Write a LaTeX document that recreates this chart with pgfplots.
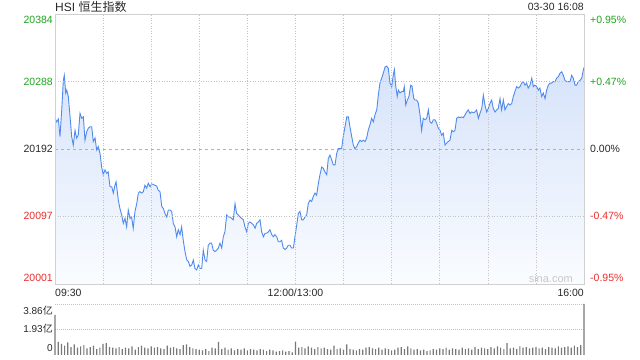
\documentclass[border=0pt]{standalone}
\usepackage{pgfplots}
\pgfplotsset{compat=1.18}
\usepackage{pgfplotstable}
\usepackage{fontspec}
\setmainfont{Liberation Sans}
\newfontfamily\cjk{Noto Sans CJK SC}
\definecolor{upgreen}{RGB}{30,165,30}
\definecolor{downred}{RGB}{235,45,45}
\definecolor{txt}{RGB}{40,40,40}
\definecolor{frame}{RGB}{208,208,208}
\definecolor{gridc}{RGB}{195,195,195}
\definecolor{lineblue}{RGB}{80,138,236}
\definecolor{filltop}{RGB}{214,227,250}
\definecolor{fillbot}{RGB}{250,252,255}
\definecolor{prevc}{RGB}{238,160,115}
\definecolor{volc}{RGB}{120,120,120}
\newcommand\lf{\fontsize{10.5bp}{12bp}\selectfont}

\pgfplotstableread{
m p
0 20236
1.1 20231
2.1 20235
3.1 20210
4.2 20248
5.2 20290
5.8 20297
6.7 20272
7.3 20276
8.3 20267
9.4 20238
10.4 20210
11.4 20198
12.5 20219
13.5 20208
14.5 20212
15.6 20243
16.7 20236
17.7 20238
18.7 20205
19.8 20217
20.8 20222
21.8 20224
22.9 20224
23.9 20203
25.0 20208
26.0 20191
27.0 20196
28.1 20186
29.1 20167
30.1 20156
31.2 20163
32.3 20158
33.2 20160
34.3 20139
35.4 20139
36.4 20130
37.4 20141
38.1 20146
39.5 20120
40.5 20108
41.6 20099
42.6 20087
43.7 20094
44.7 20082
45.7 20106
46.8 20094
47.8 20096
48.8 20080
49.9 20104
51.0 20115
52.0 20130
53.0 20132
54.1 20130
55.1 20132
56.1 20141
57.2 20137
58.2 20144
59.3 20139
60.3 20143
62.4 20141
63.4 20140
64.4 20134
65.5 20132
66.6 20111
67.6 20108
68.6 20101
69.7 20096
70.7 20106
71.7 20106
72.8 20104
73.8 20087
74.9 20082
75.9 20068
76.9 20078
78.0 20071
79.0 20082
80.0 20063
81.1 20047
82.2 20035
83.2 20033
84.2 20026
85.3 20028
86.3 20035
87.3 20023
88.4 20021
89.4 20028
90.5 20023
91.5 20023
92.5 20049
93.6 20035
94.6 20033
95.6 20056
96.7 20059
97.7 20059
98.7 20049
99.8 20047
100.9 20049
101.9 20052
102.9 20059
104.0 20052
105.0 20068
106.0 20075
107.1 20099
108.1 20096
109.2 20096
110.2 20094
111.2 20092
112.3 20115
113.3 20101
114.3 20099
115.4 20096
116.5 20094
117.5 20092
118.5 20082
119.6 20075
120.6 20087
121.6 20089
122.7 20087
123.7 20085
124.8 20080
125.8 20087
126.8 20089
127.9 20092
128.9 20075
130.0 20068
131.0 20073
132.1 20073
133.1 20075
134.1 20078
135.2 20071
136.2 20068
137.2 20071
138.3 20068
139.3 20061
140.4 20061
141.4 20063
142.4 20052
143.5 20050
144.5 20052
145.5 20056
146.6 20056
147.6 20052
148.7 20052
149.7 20068
150.8 20085
151.8 20101
152.8 20104
153.9 20092
154.9 20092
156.0 20096
157.0 20099
158.0 20115
159.1 20120
160.1 20118
161.1 20125
162.2 20130
163.2 20127
164.3 20144
165.3 20156
166.4 20167
167.4 20165
168.4 20160
169.5 20156
170.5 20179
171.5 20184
172.6 20177
173.6 20170
174.7 20170
175.7 20186
176.7 20193
177.8 20193
178.8 20193
179.8 20210
180.9 20224
182.0 20238
183.0 20238
184.0 20224
185.1 20210
186.1 20198
187.1 20193
188.2 20196
189.2 20201
190.3 20205
191.3 20203
192.3 20205
193.4 20203
194.4 20208
195.4 20219
196.5 20227
197.5 20236
198.6 20231
199.6 20241
200.7 20248
201.7 20269
202.7 20286
203.8 20293
204.8 20300
205.9 20309
206.9 20310
207.9 20307
209.0 20286
210.0 20281
211.0 20297
211.7 20305
212.5 20283
213.5 20267
214.2 20276
215.2 20272
216.3 20274
217.3 20274
217.9 20281
218.8 20255
219.8 20262
220.8 20267
221.9 20283
222.7 20282
223.8 20264
224.6 20262
225.6 20262
226.6 20258
227.7 20241
228.7 20219
229.7 20236
230.8 20234
231.9 20236
232.9 20248
233.9 20231
235.0 20229
236.0 20234
237.0 20234
238.1 20229
239.1 20222
240.2 20219
241.2 20212
242.2 20215
243.3 20198
244.3 20201
245.3 20203
246.4 20205
247.5 20219
248.5 20217
249.5 20219
250.6 20236
251.6 20238
252.6 20237
253.7 20238
254.7 20237
255.8 20241
256.8 20245
257.8 20248
258.9 20243
259.9 20245
261.0 20244
262.0 20245
263.0 20248
264.1 20236
265.1 20243
266.2 20250
267.2 20269
268.2 20255
269.3 20245
270.3 20250
271.3 20257
272.4 20262
273.4 20250
274.5 20245
275.5 20248
276.5 20250
277.6 20264
278.6 20248
279.7 20262
280.7 20248
281.8 20253
282.8 20257
283.8 20255
284.9 20257
285.9 20267
286.9 20274
288.0 20281
289.0 20279
290.1 20281
291.1 20286
292.1 20288
293.2 20283
294.2 20286
295.2 20279
296.3 20283
297.4 20293
298.4 20281
299.4 20283
300.5 20281
301.5 20276
302.5 20279
303.6 20267
304.6 20272
305.7 20264
306.7 20276
307.7 20283
308.8 20286
309.8 20286
310.8 20288
311.9 20288
312.9 20293
314.0 20295
315.0 20300
316.1 20302
317.1 20297
318.1 20290
319.2 20288
320.2 20288
321.3 20288
322.3 20297
323.3 20293
324.4 20283
325.4 20283
326.4 20288
327.5 20290
328.6 20293
329.6 20305
330 20308
}\pricedata

\pgfplotstableread{
m v
0 3.03
2 1.00
4 0.85
6 0.70
8 0.95
10 0.60
12 0.80
14 0.55
16 0.65
18 0.75
20 0.50
22 0.60
24 0.70
26 0.45
28 0.55
30 0.85
32 0.90
34 0.60
36 0.55
38 0.50
40 0.60
42 0.45
44 0.55
46 0.50
48 0.65
50 0.40
52 0.60
54 0.70
56 0.55
58 0.50
60 0.65
62 0.55
64 0.60
66 0.50
68 0.45
70 0.70
72 0.55
74 0.60
76 0.50
78 0.45
80 0.75
82 0.80
84 0.60
86 0.50
88 0.45
90 0.40
92 0.35
94 0.45
96 0.30
98 0.55
100 0.50
102 1.00
104 0.45
106 0.55
108 0.40
110 0.50
112 0.35
114 0.45
116 0.40
118 0.50
120 0.35
122 0.45
124 0.40
126 0.35
128 0.45
130 0.40
132 0.30
134 0.40
136 0.35
138 0.25
140 0.30
142 0.35
144 0.25
146 0.30
148 0.20
150 1.02
152 0.55
154 0.60
156 0.50
158 0.65
160 0.55
162 0.45
164 0.60
166 0.50
168 0.55
170 0.45
172 0.40
174 0.70
176 0.45
178 0.50
180 0.40
182 0.80
184 0.45
186 0.40
188 0.35
190 0.45
192 0.40
194 0.55
196 0.60
198 0.50
200 0.45
202 0.55
204 0.40
206 0.50
208 0.45
210 0.35
212 0.40
214 0.55
216 0.60
218 0.45
220 0.65
222 0.50
224 0.40
226 0.45
228 0.35
230 0.40
232 0.30
234 0.35
236 0.45
238 0.40
240 0.50
242 0.45
244 0.55
246 0.40
248 0.50
250 0.45
252 0.40
254 0.55
256 0.45
258 0.50
260 0.40
262 0.60
264 0.45
266 0.55
268 0.50
270 0.45
272 0.60
274 0.50
276 0.65
278 0.55
280 0.45
282 0.90
284 0.50
286 0.55
288 0.45
290 0.65
292 0.55
294 0.60
296 0.50
298 0.55
300 0.60
302 0.50
304 0.55
306 0.45
308 0.60
310 0.55
312 0.50
314 0.65
316 0.55
318 0.60
320 0.65
322 0.55
324 0.70
326 0.60
328 0.75
330 3.86
}\voldata

\begin{document}
\begin{tikzpicture}
\path[use as bounding box] (0,0) rectangle (640bp,360bp);
\begin{axis}[
  at={(55bp,346bp)}, anchor=north west,
  scale only axis, width=529bp, height=270bp,
  xmin=0, xmax=330, ymin=20001, ymax=20384,
  scaled ticks=false,
  axis line style={draw=frame, line width=0.8bp},
  xtick={30,60,...,300}, ytick={20097,20288},
  xticklabels={}, yticklabels={},
  major tick length=0pt,
  xmajorgrids, ymajorgrids,
  grid style={draw=gridc, line width=0.6bp, dash pattern=on 1bp off 1.6bp},
  axis on top, clip=false,
]
\addplot[draw=none, top color=filltop, bottom color=fillbot] table[x=m,y=p] {\pricedata} -- (axis cs:330,20001) -- (axis cs:0,20001) -- cycle;
\addplot[prevc, line width=0.8bp, dash pattern=on 3bp off 3bp] coordinates {(0,20192) (330,20192)};
\addplot[lineblue, line width=0.9bp] table[x=m,y=p] {\pricedata};
% left labels
\node[anchor=north east, inner sep=0pt, text=upgreen, font=\lf] at (axis cs:0,20384) [xshift=-2bp, yshift=-2bp] {20384};
\node[anchor=east, inner sep=0pt, text=upgreen, font=\lf] at (axis cs:0,20288) [xshift=-2bp] {20288};
\node[anchor=east, inner sep=0pt, text=txt, font=\lf] at (axis cs:0,20192) [xshift=-2bp] {20192};
\node[anchor=east, inner sep=0pt, text=downred, font=\lf] at (axis cs:0,20097) [xshift=-2bp] {20097};
\node[anchor=south east, inner sep=0pt, text=downred, font=\lf] at (axis cs:0,20001) [xshift=-2bp, yshift=2bp] {20001};
% right labels
\node[anchor=north west, inner sep=0pt, text=upgreen, font=\lf] at (axis cs:330,20384) [xshift=6bp, yshift=-2bp] {+0.95\%};
\node[anchor=west, inner sep=0pt, text=upgreen, font=\lf] at (axis cs:330,20288) [xshift=6bp] {+0.47\%};
\node[anchor=west, inner sep=0pt, text=txt, font=\lf] at (axis cs:330,20192) [xshift=6bp] {0.00\%};
\node[anchor=west, inner sep=0pt, text=downred, font=\lf] at (axis cs:330,20097) [xshift=6bp] {-0.47\%};
\node[anchor=south west, inner sep=0pt, text=downred, font=\lf] at (axis cs:330,20001) [xshift=6bp, yshift=2bp] {-0.95\%};
% x labels
\node[anchor=north west, inner sep=0pt, text=txt, font=\lf] at (axis cs:0,20001) [yshift=-5bp] {09:30};
\node[anchor=north, inner sep=0pt, text=txt, font=\lf] at (axis cs:150,20001) [yshift=-5bp] {12:00/13:00};
\node[anchor=north east, inner sep=0pt, text=txt, font=\lf] at (axis cs:330,20001) [yshift=-5bp] {16:00};
% title and date
\node[anchor=base west, inner sep=0pt, text=txt, font=\fontsize{12bp}{14bp}\selectfont] at (axis cs:0,20384) [yshift=2bp] {HSI {\cjk 恒生指数}};
\node[anchor=base east, inner sep=0pt, text=txt, font=\lf] at (axis cs:330,20384) [yshift=3bp] {03-30 16:08};
\node[anchor=base east, inner sep=0pt, text={rgb,255:red,200;green,200;blue,200}, font=\fontsize{11bp}{13bp}\selectfont] at (axis cs:330,20001) [xshift=-11bp, yshift=1.5bp] {sina.com};
\end{axis}

\begin{axis}[
  at={(55bp,56bp)}, anchor=north west,
  scale only axis, width=529bp, height=51bp,
  xmin=0, xmax=330, ymin=0, ymax=3.86,
  scaled ticks=false,
  axis line style={draw=none},
  xtick=\empty, ytick={1.93,3.86},
  yticklabels={}, major tick length=0pt,
  ymajorgrids,
  grid style={draw=gridc, line width=0.6bp, dash pattern=on 1bp off 1bp},
  clip=false,
]
\addplot[ybar, bar width=1.2bp, fill=volc, draw=none] table[x=m,y=v] {\voldata};
\node[anchor=east, inner sep=0pt, text=txt, font=\fontsize{10bp}{12bp}\selectfont] at (axis cs:0,3.86) [xshift=-2bp, yshift=-7bp] {3.86{\cjk 亿}};
\node[anchor=east, inner sep=0pt, text=txt, font=\fontsize{10bp}{12bp}\selectfont] at (axis cs:0,1.93) [xshift=-2bp, yshift=1bp] {1.93{\cjk 亿}};
\node[anchor=east, inner sep=0pt, text=txt, font=\fontsize{10bp}{12bp}\selectfont] at (axis cs:0,0) [xshift=-2bp, yshift=7bp] {0};
\end{axis}
\end{tikzpicture}
\end{document}
